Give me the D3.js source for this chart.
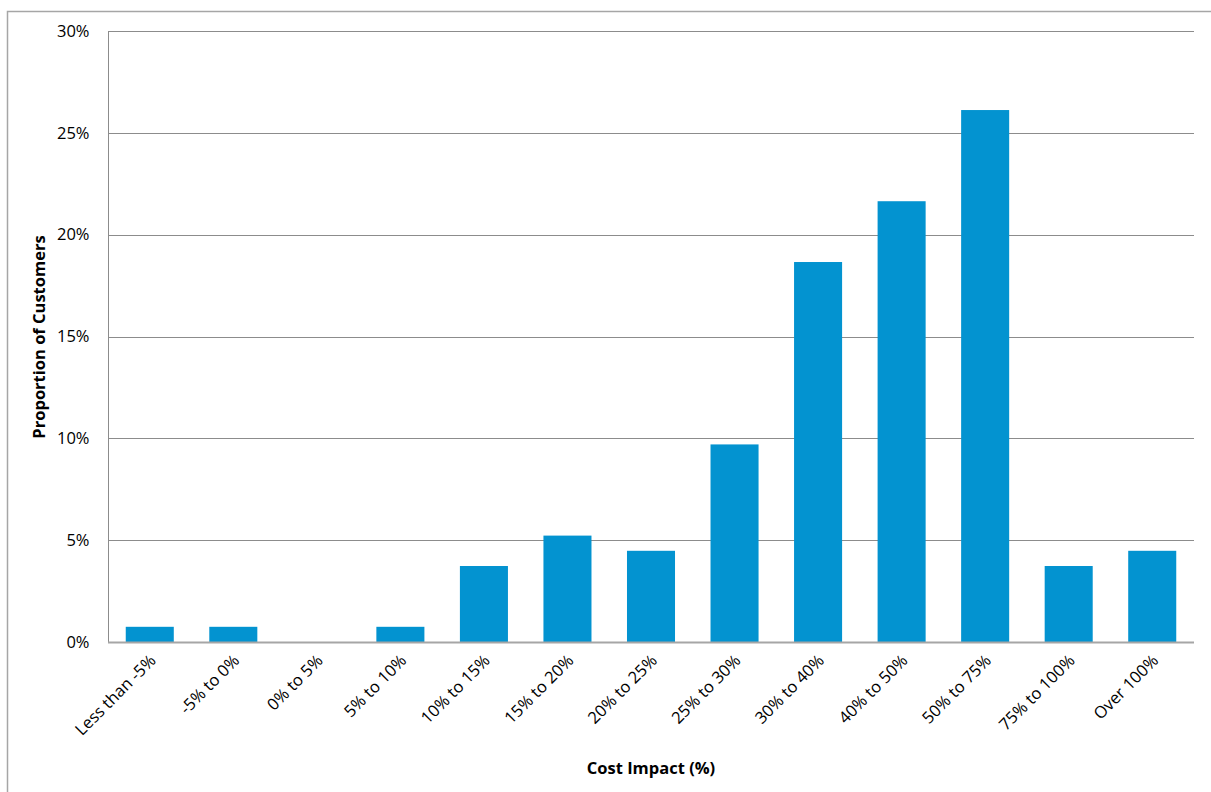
<!DOCTYPE html>
<html><head><meta charset="utf-8">
<script src="https://cdn.jsdelivr.net/npm/d3@7"></script>
<style>body{margin:0;background:#fff}svg{display:block}</style>
</head><body>
<svg id="c" width="1211" height="792"></svg>
<script>
const categories = ["Less than -5%","-5% to 0%","0% to 5%","5% to 10%","10% to 15%","15% to 20%","20% to 25%","25% to 30%","30% to 40%","40% to 50%","50% to 75%","75% to 100%","Over 100%"];
const values = [0.746,0.746,0,0.746,3.731,5.224,4.478,9.701,18.657,21.642,26.119,3.731,4.478];
const yTicks = [0,5,10,15,20,25,30];
const xTitle = "Cost Impact (%)";
const yTitle = "Proportion of Customers";

const svg = d3.select("#c");
const font = "'Open Sans', 'Noto Sans', sans-serif";
const m = {l:108, r:1194, t:31, b:642};

svg.append("rect").attr("x",7.5).attr("y",11.5).attr("width",1250).attr("height",900)
  .attr("fill","none").attr("stroke","#a6a6a6").attr("stroke-width",1.5);

const x = d3.scaleBand().domain(categories).range([m.l,m.r]).paddingInner(0.425).paddingOuter(0.2125);
const y = d3.scaleLinear().domain([0,30]).range([m.b,m.t]);

// gridlines
svg.append("g").selectAll("line").data(yTicks.filter(d=>d>0)).join("line")
  .attr("x1",m.l).attr("x2",m.r).attr("y1",d=>Math.round(y(d))+0.5).attr("y2",d=>Math.round(y(d))+0.5)
  .attr("stroke","#8c8c8c").attr("stroke-width",1);

// bars
svg.append("g").selectAll("rect").data(values).join("rect")
  .attr("x",(d,i)=>x(categories[i])).attr("width",x.bandwidth())
  .attr("y",d=>y(d)).attr("height",d=>m.b-y(d))
  .attr("fill","#0393d0");

// y axis
const ya = svg.append("g").attr("transform",`translate(${m.l+0.5},0)`)
  .call(d3.axisLeft(y).tickValues(yTicks).tickSize(0).tickPadding(19).tickFormat(d=>d+"%"));
ya.select(".domain").attr("stroke","#8c8c8c").attr("d",`M0,${m.t}V${m.b}`);
ya.selectAll("text").attr("font-family",font).attr("font-size",16.5).attr("fill","#000");

// x axis
const xa = svg.append("g").attr("transform",`translate(0,${m.b+0.5})`)
  .call(d3.axisBottom(x).tickSize(0).tickPadding(0));
xa.select(".domain").attr("stroke","#a6a6a6").attr("stroke-width",2).attr("d",`M${m.l},0H${m.r}`);
xa.selectAll("text").attr("font-family",font).attr("font-size",16.5).attr("fill","#000")
  .attr("text-anchor","end").attr("dy","0.35em")
  .attr("transform","translate(3,15) rotate(-45)");

svg.append("text").attr("x",651).attr("y",774).attr("text-anchor","middle")
  .attr("font-family",font).attr("font-weight","bold").attr("font-size",16.5).text(xTitle);
svg.append("text").attr("transform","translate(45,337) rotate(-90)").attr("text-anchor","middle")
  .attr("font-family",font).attr("font-weight","bold").attr("font-size",16.5).text(yTitle);
</script>
</body></html>
